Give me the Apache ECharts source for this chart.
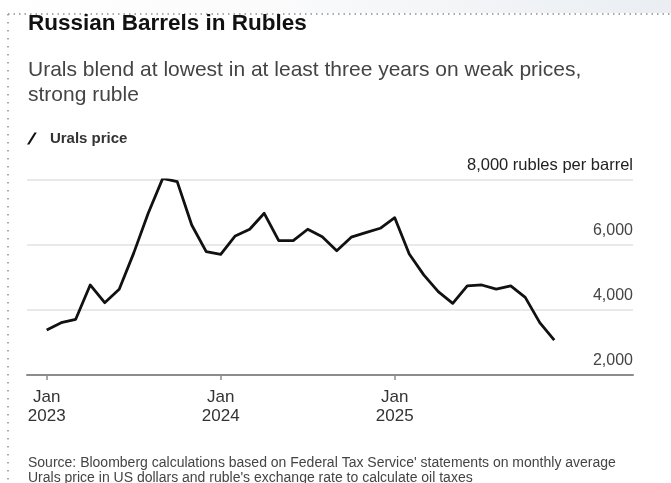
<!DOCTYPE html>
<html>
<head>
<meta charset="utf-8">
<script src="https://cdn.jsdelivr.net/npm/echarts@6/dist/echarts.min.js"></script>
<style>
html,body{margin:0;padding:0;background:#fff;}
#chart{width:671px;height:483px;}
</style>
</head>
<body>
<div id="chart"></div>
<script>
// Months (Jan 2023 .. Dec 2025)
var months = [
  'Jan 2023','Feb 2023','Mar 2023','Apr 2023','May 2023','Jun 2023','Jul 2023','Aug 2023','Sep 2023','Oct 2023','Nov 2023','Dec 2023',
  'Jan 2024','Feb 2024','Mar 2024','Apr 2024','May 2024','Jun 2024','Jul 2024','Aug 2024','Sep 2024','Oct 2024','Nov 2024','Dec 2024',
  'Jan 2025','Feb 2025','Mar 2025','Apr 2025','May 2025','Jun 2025','Jul 2025','Aug 2025','Sep 2025','Oct 2025','Nov 2025','Dec 2025'
];
// Urals price, rubles per barrel
var uralsPrice = [
  3385, 3610, 3715, 4770, 4225, 4640, 5750, 6975, 8050, 7950, 6615, 5795,
  5715, 6280, 6485, 6975, 6135, 6135, 6485, 6255, 5825, 6240, 6380, 6515,
  6840, 5725, 5080, 4565, 4205, 4740, 4770, 4640, 4740, 4390, 3610, 3075
];
// X tick positions (month index) and labels
var xTickIndex = [0, 12, 24];
var xTickLabels = ['Jan\n2023', 'Jan\n2024', 'Jan\n2025'];
// Y ticks
var yTicks = [2000, 4000, 6000, 8000];
var yUnit = ' rubles per barrel';

var FONT = '"Liberation Sans", Arial, sans-serif';
var chart = echarts.init(document.getElementById('chart'), null, {renderer: 'canvas'});

var seriesData = uralsPrice.map(function (v, i) { return [i, v]; });

var option = {
  backgroundColor: '#ffffff',
  animation: false,
  textStyle: {fontFamily: FONT},
  title: [
    {
      text: 'Russian Barrels in Rubles',
      left: 28, top: 12, padding: 0,
      textStyle: {fontFamily: FONT, fontSize: 22.5, fontWeight: 'bold', color: '#111111', lineHeight: 24}
    },
    {
      text: 'Urals blend at lowest in at least three years on weak prices,\nstrong ruble',
      left: 28, top: 58, padding: 0,
      textStyle: {fontFamily: FONT, fontSize: 21, fontWeight: 'normal', color: '#444444', lineHeight: 25}
    },
    {
      text: "Source: Bloomberg calculations based on Federal Tax Service' statements on monthly average\nUrals price in US dollars and ruble's exchange rate to calculate oil taxes",
      left: 28, top: 456, padding: 0,
      textStyle: {fontFamily: FONT, fontSize: 14, fontWeight: 'normal', color: '#444444', lineHeight: 15}
    }
  ],
  legend: {
    left: 27, top: 131, padding: 0,
    itemWidth: 20, itemHeight: 12,
    data: [{name: 'Urals price', icon: 'path://M0,11L2.2,11L9,0L6.8,0Z'}],
    textStyle: {fontFamily: FONT, fontSize: 15, fontWeight: 'bold', color: '#333333', padding: [0, 0, 0, 3]},
    selectedMode: false
  },
  grid: {left: 27, right: 38, top: 180, bottom: 108, containLabel: false},
  xAxis: {
    type: 'value',
    min: -1.358,
    max: 40.43,
    axisLine: {show: true, lineStyle: {color: '#8c8c8c', width: 2}},
    axisTick: {show: true, customValues: xTickIndex, length: 5, lineStyle: {color: '#8c8c8c', width: 1.5}},
    axisLabel: {
      customValues: xTickIndex,
      formatter: function (v) { return xTickLabels[xTickIndex.indexOf(Math.round(v))] || ''; },
      fontFamily: FONT, fontSize: 17, color: '#333333', lineHeight: 19, margin: 13
    },
    splitLine: {show: false}
  },
  yAxis: {
    type: 'value',
    position: 'right',
    min: 2000, max: 8000, interval: 2000,
    axisLine: {show: false},
    axisTick: {show: false},
    splitLine: {show: true, lineStyle: {color: '#e2e2e2', width: 1.5}},
    axisLabel: {
      inside: true,
      margin: 0,
      verticalAlign: 'bottom',
      padding: [0, 0, 6, 0],
      fontFamily: FONT, fontSize: 16, color: '#444444',
      formatter: function (v) {
        var s = v.toLocaleString('en-US');
        return v === yTicks[yTicks.length - 1] ? '{u|' + s + yUnit + '}' : s;
      },
      rich: {u: {fontFamily: FONT, fontSize: 16.5, color: '#222222'}}
    }
  },
  graphic: [
    {
      type: 'rect', silent: true, z: -1,
      shape: {x: 0, y: 0, width: 671, height: 13},
      style: {fill: new echarts.graphic.LinearGradient(0, 0, 1, 0, [
        {offset: 0, color: '#ffffff'}, {offset: 0.4, color: '#fbfbfc'}, {offset: 1, color: '#eaeef2'}
      ])}
    },
    {
      type: 'line', silent: true,
      shape: {x1: 8, y1: 14, x2: 671, y2: 14},
      style: {stroke: '#8a8f96', lineWidth: 1.5, lineDash: [1.5, 4]}
    },
    {
      type: 'line', silent: true,
      shape: {x1: 8, y1: 14, x2: 8, y2: 483},
      style: {stroke: '#8a8f96', lineWidth: 1.5, lineDash: [1.5, 6.5]}
    }
  ],
  series: [
    {
      name: 'Urals price',
      type: 'line',
      data: seriesData,
      showSymbol: false,
      symbol: 'none',
      smooth: false,
      lineStyle: {color: '#111111', width: 2.8, join: 'round'},
      itemStyle: {color: '#111111'},
      z: 5
    }
  ]
};
chart.setOption(option);
</script>
</body>
</html>
